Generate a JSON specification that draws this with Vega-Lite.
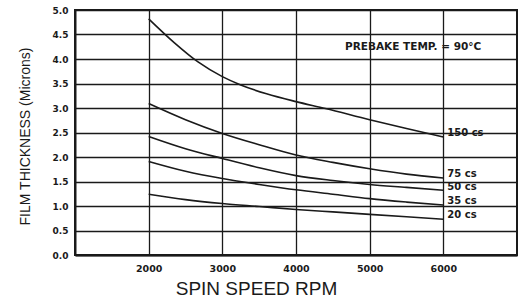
{
  "$schema": "https://vega.github.io/schema/vega-lite/v6.json",
  "width": 442,
  "height": 245,
  "autosize": "none",
  "padding": {"left": 75, "top": 10, "right": 11, "bottom": 44},
  "background": "white",
  "config": {"view": {"stroke": "#1a1a1a", "strokeWidth": 2}},
  "datasets": {
    "curves": [
      {"series": "150 cs", "rpm": 2000, "thickness": 4.82},
      {"series": "150 cs", "rpm": 2350, "thickness": 4.33},
      {"series": "150 cs", "rpm": 2670, "thickness": 3.94},
      {"series": "150 cs", "rpm": 3000, "thickness": 3.64},
      {"series": "150 cs", "rpm": 3250, "thickness": 3.47},
      {"series": "150 cs", "rpm": 3600, "thickness": 3.29},
      {"series": "150 cs", "rpm": 4000, "thickness": 3.13},
      {"series": "150 cs", "rpm": 4400, "thickness": 2.99},
      {"series": "150 cs", "rpm": 5000, "thickness": 2.76},
      {"series": "150 cs", "rpm": 5500, "thickness": 2.58},
      {"series": "150 cs", "rpm": 6000, "thickness": 2.41},
      {"series": "75 cs", "rpm": 2000, "thickness": 3.09},
      {"series": "75 cs", "rpm": 2500, "thickness": 2.76},
      {"series": "75 cs", "rpm": 3000, "thickness": 2.48},
      {"series": "75 cs", "rpm": 3500, "thickness": 2.25},
      {"series": "75 cs", "rpm": 4000, "thickness": 2.04},
      {"series": "75 cs", "rpm": 4500, "thickness": 1.89},
      {"series": "75 cs", "rpm": 5000, "thickness": 1.76},
      {"series": "75 cs", "rpm": 5500, "thickness": 1.65},
      {"series": "75 cs", "rpm": 6000, "thickness": 1.57},
      {"series": "50 cs", "rpm": 2000, "thickness": 2.42},
      {"series": "50 cs", "rpm": 2500, "thickness": 2.17},
      {"series": "50 cs", "rpm": 3000, "thickness": 1.97},
      {"series": "50 cs", "rpm": 3500, "thickness": 1.78},
      {"series": "50 cs", "rpm": 4000, "thickness": 1.62},
      {"series": "50 cs", "rpm": 4500, "thickness": 1.52},
      {"series": "50 cs", "rpm": 5000, "thickness": 1.44},
      {"series": "50 cs", "rpm": 5500, "thickness": 1.38},
      {"series": "50 cs", "rpm": 6000, "thickness": 1.32},
      {"series": "35 cs", "rpm": 2000, "thickness": 1.91},
      {"series": "35 cs", "rpm": 2500, "thickness": 1.71},
      {"series": "35 cs", "rpm": 3000, "thickness": 1.56},
      {"series": "35 cs", "rpm": 3500, "thickness": 1.44},
      {"series": "35 cs", "rpm": 4000, "thickness": 1.33},
      {"series": "35 cs", "rpm": 4500, "thickness": 1.24},
      {"series": "35 cs", "rpm": 5000, "thickness": 1.15},
      {"series": "35 cs", "rpm": 5500, "thickness": 1.08},
      {"series": "35 cs", "rpm": 6000, "thickness": 1.02},
      {"series": "20 cs", "rpm": 2000, "thickness": 1.24},
      {"series": "20 cs", "rpm": 2500, "thickness": 1.13},
      {"series": "20 cs", "rpm": 3000, "thickness": 1.05},
      {"series": "20 cs", "rpm": 3500, "thickness": 0.99},
      {"series": "20 cs", "rpm": 4000, "thickness": 0.93},
      {"series": "20 cs", "rpm": 4500, "thickness": 0.88},
      {"series": "20 cs", "rpm": 5000, "thickness": 0.83},
      {"series": "20 cs", "rpm": 5500, "thickness": 0.78},
      {"series": "20 cs", "rpm": 6000, "thickness": 0.73}
    ],
    "labels": [
      {"label": "150 cs", "rpm": 6000, "thickness": 2.5},
      {"label": "75 cs", "rpm": 6000, "thickness": 1.66},
      {"label": "50 cs", "rpm": 6000, "thickness": 1.39},
      {"label": "35 cs", "rpm": 6000, "thickness": 1.11},
      {"label": "20 cs", "rpm": 6000, "thickness": 0.81}
    ],
    "note": [
      {"label": "PREBAKE TEMP. = 90°C", "rpm": 5590, "thickness": 4.24}
    ]
  },
  "encoding": {
    "x": {
      "field": "rpm", "type": "quantitative",
      "scale": {"domain": [1000, 7000], "nice": false, "zero": false},
      "axis": {
        "values": [2000, 3000, 4000, 5000, 6000],
        "format": "d",
        "grid": true, "gridColor": "#1a1a1a", "gridWidth": 1.3, "gridOpacity": 1,
        "ticks": false, "domain": true, "domainColor": "#1a1a1a", "domainWidth": 2,
        "labelFont": "DejaVu Sans", "labelFontWeight": "bold", "labelFontSize": 9.5,
        "labelColor": "#1a1a1a", "labelPadding": 8, "labelOverlap": false,
        "title": "SPIN SPEED RPM", "titleFont": "Liberation Sans", "titleFontSize": 19,
        "titleFontWeight": "normal", "titleColor": "#1a1a1a",
        "titleX": 181, "titleY": 39, "titleAlign": "center", "titleBaseline": "alphabetic"
      }
    },
    "y": {
      "field": "thickness", "type": "quantitative",
      "scale": {"domain": [0, 5], "nice": false},
      "axis": {
        "values": [0, 0.5, 1, 1.5, 2, 2.5, 3, 3.5, 4, 4.5, 5],
        "format": ".1f",
        "grid": true, "gridColor": "#1a1a1a", "gridWidth": 1.3, "gridOpacity": 1,
        "ticks": false, "domain": true, "domainColor": "#1a1a1a", "domainWidth": 2,
        "labelFont": "DejaVu Sans", "labelFontWeight": "bold", "labelFontSize": 9,
        "labelColor": "#1a1a1a", "labelPadding": 7, "labelOverlap": false, "labelFlush": false,
        "title": "FILM THICKNESS (Microns)", "titleFont": "Liberation Sans", "titleFontSize": 14,
        "titleFontWeight": "normal", "titleColor": "#1a1a1a",
        "titleX": -50, "titleY": 126, "titleAngle": -90, "titleAlign": "center", "titleBaseline": "middle"
      }
    }
  },
  "layer": [
    {
      "data": {"name": "curves"},
      "mark": {"type": "line", "interpolate": "monotone", "color": "#1a1a1a", "strokeWidth": 1.6},
      "encoding": {
        "detail": {"field": "series", "type": "nominal"}
      }
    },
    {
      "data": {"name": "labels"},
      "mark": {"type": "text", "align": "left", "baseline": "middle", "dx": 4, "font": "DejaVu Sans", "fontWeight": "bold", "fontSize": 10, "color": "#1a1a1a"},
      "encoding": {
        "text": {"field": "label", "type": "nominal"}
      }
    },
    {
      "data": {"name": "note"},
      "mark": {"type": "text", "align": "center", "baseline": "middle", "font": "DejaVu Sans", "fontWeight": "bold", "fontSize": 10.5, "color": "#1a1a1a"},
      "encoding": {
        "text": {"field": "label", "type": "nominal"}
      }
    }
  ]
}
